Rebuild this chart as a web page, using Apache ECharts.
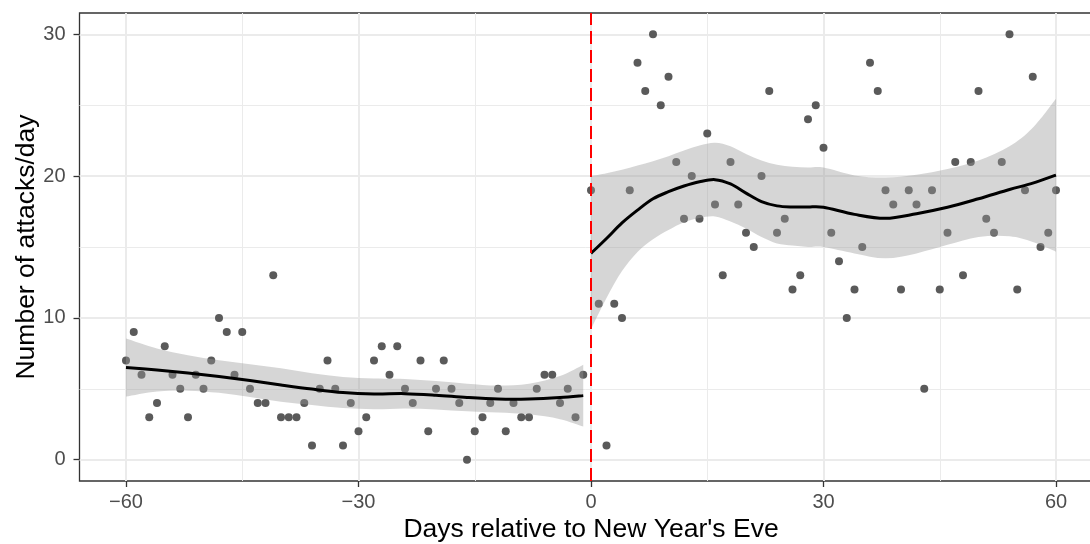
<!DOCTYPE html>
<html>
<head>
<meta charset="utf-8">
<title>Attacks per day around New Year's Eve</title>
<script src="https://cdn.jsdelivr.net/npm/echarts@6/dist/echarts.min.js"></script>
<style>
  html, body { margin: 0; padding: 0; background: #ffffff; }
  #chart { width: 1090px; height: 544px; }
</style>
</head>
<body>
<div id="chart"></div>
<script>
// Daily attack counts, before (days -60..-1) and after (days 0..60) New Year's Eve
const preStartDay = -60;
const preCounts = [7, 9, 6, 3, 4, 8, 6, 5, 3, 6,
                   5, 7, 10, 9, 6, 9, 5, 4, 4, 13,
                   3, 3, 3, 4, 1, 5, 7, 5, 1, 4,
                   2, 3, 7, 8, 6, 8, 5, 4, 7, 2,
                   5, 7, 5, 4, 0, 2, 3, 4, 5, 2,
                   4, 3, 3, 5, 6, 6, 4, 5, 3, 6];
const postStartDay = 0;
const postCounts = [19, 11, 1, 11, 10, 19, 28, 26, 30, 25,
                    27, 21, 17, 20, 17, 23, 18, 13, 21, 18,
                    16, 15, 20, 26, 16, 17, 12, 13, 24, 25,
                    22, 16, 14, 10, 12, 15, 28, 26, 19, 18,
                    12, 19, 18, 5, 19, 12, 16, 21, 13, 21,
                    26, 17, 16, 21, 30, 12, 19, 27, 15, 16, 19];

// Local regression fit and its 95% confidence band, before New Year's Eve
const smoothPreDays = [-60, -56, -52, -48, -44, -40, -36, -32, -28, -24, -20, -16, -12, -8, -4, -1];
const fitPre   = [6.50, 6.33, 6.12, 5.87, 5.58, 5.27, 4.98, 4.74, 4.64, 4.66, 4.55, 4.39, 4.28, 4.28, 4.38, 4.52];
const upperPre = [8.55, 7.85, 7.37, 7.02, 6.73, 6.45, 6.10, 5.84, 5.72, 5.70, 5.55, 5.36, 5.23, 5.36, 5.90, 6.70];
const lowerPre = [4.45, 4.81, 4.87, 4.72, 4.43, 4.09, 3.86, 3.64, 3.56, 3.62, 3.55, 3.42, 3.33, 3.20, 2.86, 2.34];

// Local regression fit and its 95% confidence band, from New Year's Eve on
const smoothPostDays = [0, 2, 4, 6, 8, 10, 12, 14, 16, 18, 20, 22, 24, 26, 28, 30, 34, 38, 42, 46, 50, 54, 57, 60];
const fitPost   = [14.55, 15.60, 16.70, 17.60, 18.40, 18.90, 19.30, 19.60, 19.75, 19.45, 18.80, 18.20,
                   17.90, 17.82, 17.82, 17.80, 17.30, 17.02, 17.35, 17.80, 18.40, 19.05, 19.50, 20.07];
const upperPost = [20.00, 20.20, 20.45, 20.75, 21.05, 21.40, 21.80, 22.15, 22.35, 22.10, 21.55, 21.10,
                   20.80, 20.65, 20.60, 20.60, 20.05, 19.90, 20.10, 20.50, 21.10, 22.10, 23.40, 25.45];
const lowerPost = [9.20, 11.40, 13.30, 14.65, 15.55, 16.20, 16.75, 17.05, 17.15, 16.80, 16.30, 15.70,
                   15.25, 15.10, 15.00, 15.00, 14.55, 14.20, 14.55, 15.15, 15.70, 15.75, 15.35, 14.67];

// Axis breaks
const xTicks = [-60, -30, 0, 30, 60];
const xMinor = [-45, -15, 15, 45];
const yTicks = [0, 10, 20, 30];
const yMinor = [5, 15, 25];
const eventDay = 0;

const FONT = '"Liberation Sans", Arial, Helvetica, sans-serif';
const BAND_FILL = 'rgba(153,153,153,0.4)';

function pointsFrom(startDay, counts) {
  return counts.map((c, i) => [startDay + i, c]);
}
function fmtTick(v) {
  return v < 0 ? '\u2212' + Math.abs(v) : String(v);
}

// Cubic Catmull-Rom segments through pixel points, as SVG path commands
function splineSegments(pts) {
  let d = '';
  for (let i = 0; i < pts.length - 1; i++) {
    const p0 = pts[i - 1] || pts[i];
    const p1 = pts[i];
    const p2 = pts[i + 1];
    const p3 = pts[i + 2] || pts[i + 1];
    const c1 = [p1[0] + (p2[0] - p0[0]) / 6, p1[1] + (p2[1] - p0[1]) / 6];
    const c2 = [p2[0] - (p3[0] - p1[0]) / 6, p2[1] - (p3[1] - p1[1]) / 6];
    d += ' C' + c1.join(',') + ' ' + c2.join(',') + ' ' + p2.join(',');
  }
  return d;
}

// Confidence band: upper edge left to right, lower edge back, closed
function bandSeries(days, lo, hi) {
  return {
    type: 'custom', coordinateSystem: 'cartesian2d', silent: true, z: 3,
    data: [[days[0], lo[0]]],
    renderItem: function (params, api) {
      const top = days.map((d, i) => api.coord([d, hi[i]]));
      const bot = days.map((d, i) => api.coord([d, lo[i]])).reverse();
      const path = 'M' + top[0].join(',') + splineSegments(top) +
                   ' L' + bot[0].join(',') + splineSegments(bot) + ' Z';
      return {
        type: 'path',
        shape: { pathData: path },
        style: { fill: BAND_FILL, stroke: null }
      };
    }
  };
}

// Fitted curve, drawn with the same spline as the band edges
function fitSeries(days, fit) {
  return {
    type: 'custom', coordinateSystem: 'cartesian2d', silent: true, z: 4,
    data: [[days[0], fit[0]]],
    renderItem: function (params, api) {
      const pts = days.map((d, i) => api.coord([d, fit[i]]));
      return {
        type: 'path',
        shape: { pathData: 'M' + pts[0].join(',') + splineSegments(pts) },
        style: { fill: null, stroke: '#000000', lineWidth: 3, lineJoin: 'round' }
      };
    }
  };
}

const chart = echarts.init(document.getElementById('chart'), null, { renderer: 'canvas' });

const option = {
  animation: false,
  backgroundColor: '#ffffff',
  grid: {
    left: 79.5, right: -12.5, top: 13, bottom: 63,
    show: true, borderColor: '#333333', borderWidth: 1.3, backgroundColor: '#ffffff',
    outerBoundsMode: 'none', containLabel: false
  },
  xAxis: {
    type: 'value', min: -66, max: 66,
    name: "Days relative to New Year's Eve",
    nameLocation: 'middle', nameGap: 35, nameMoveOverlap: false,
    nameTextStyle: { fontSize: 26.5, color: '#000000', fontFamily: FONT },
    axisLine: { show: false, onZero: false },
    axisTick: { show: true, length: 6, customValues: xTicks, lineStyle: { color: '#333333', width: 1.3 } },
    axisLabel: { customValues: xTicks, formatter: fmtTick, fontSize: 20, color: '#4d4d4d', fontFamily: FONT, margin: 11 },
    splitLine: { show: true, lineStyle: { color: '#ebebeb', width: 2 } }
  },
  yAxis: {
    type: 'value', min: -1.5, max: 31.5,
    name: 'Number of attacks/day',
    nameLocation: 'middle', nameGap: 39, nameMoveOverlap: false,
    nameTextStyle: { fontSize: 26.5, color: '#000000', fontFamily: FONT },
    axisLine: { show: false, onZero: false },
    axisTick: { show: true, length: 6, customValues: yTicks, lineStyle: { color: '#333333', width: 1.3 } },
    axisLabel: { customValues: yTicks, formatter: fmtTick, fontSize: 20, color: '#4d4d4d', fontFamily: FONT, margin: 14 },
    splitLine: { show: true, lineStyle: { color: '#ebebeb', width: 2 } }
  },
  series: [
    // minor grid lines
    {
      type: 'line', data: [], silent: true, z: 1,
      markLine: {
        silent: true, symbol: 'none', z: 1, animation: false,
        label: { show: false },
        lineStyle: { color: '#ebebeb', width: 1, type: 'solid' },
        emphasis: { disabled: true },
        data: xMinor.map(v => ({ xAxis: v })).concat(yMinor.map(v => ({ yAxis: v })))
      }
    },
    // daily counts
    {
      type: 'scatter', data: pointsFrom(preStartDay, preCounts).concat(pointsFrom(postStartDay, postCounts)),
      symbol: 'circle', symbolSize: 8, silent: true, z: 2,
      itemStyle: { color: '#5a5a5a', opacity: 1 }
    },
    bandSeries(smoothPreDays, lowerPre, upperPre),
    bandSeries(smoothPostDays, lowerPost, upperPost),
    fitSeries(smoothPreDays, fitPre),
    fitSeries(smoothPostDays, fitPost),
    // New Year's Eve marker
    {
      type: 'line', data: [], silent: true, z: 10,
      markLine: {
        silent: true, symbol: 'none', z: 10, animation: false,
        label: { show: false },
        lineStyle: { color: '#ff0000', width: 2, type: [13, 6] },
        emphasis: { disabled: true },
        data: [{ xAxis: eventDay }]
      }
    }
  ]
};

chart.setOption(option);
</script>
</body>
</html>
